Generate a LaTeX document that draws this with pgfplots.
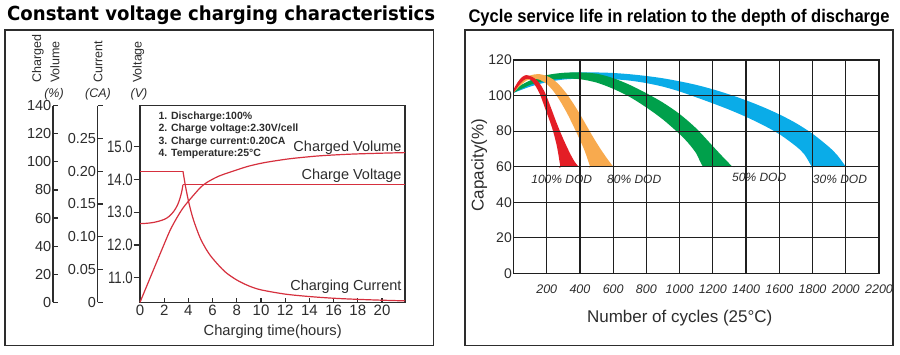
\documentclass[border=0pt]{standalone}
\usepackage{pgfplots}
\pgfplotsset{compat=1.18}
\usepackage{fontspec}
\setmainfont{Liberation Sans}
\newfontfamily\dejavu{DejaVu Sans}
\usepackage{graphicx}
\definecolor{lred}{RGB}{214,48,62}
\definecolor{bred}{RGB}{228,30,38}
\definecolor{borange}{RGB}{248,170,78}
\definecolor{bgreen}{RGB}{0,160,75}
\definecolor{bblue}{RGB}{10,172,232}
\definecolor{txt}{RGB}{45,45,45}
\newcommand{\fs}[1]{\fontsize{#1}{#1}\selectfont}
\newcommand{\vl}[1]{\scalebox{.8}[1]{#1}}
\begin{document}
\begin{tikzpicture}
\useasboundingbox (0,0) rectangle (900pt,-354pt);
\fill[white] (0,0) rectangle (900pt,-354pt);
% titles
\node[anchor=base west, inner sep=0] at (7pt,-20.7pt) {\resizebox{428pt}{14.7pt}{\dejavu\bfseries Constant voltage charging characteristics}};
\node[anchor=base west, inner sep=0] at (468.3pt,-22.3pt) {\resizebox{421pt}{13.2pt}{\bfseries Cycle service life in relation to the depth of discharge}};
% frames
\draw[txt, line width=1.3pt] (5pt,-30pt) rectangle (433.5pt,-345.5pt);
\draw[txt, line width=1.3pt] (465pt,-30pt) rectangle (893pt,-345.7pt);
% left rotated labels
\node[rotate=90, anchor=west, inner sep=0, font=\fs{12.5}, text=txt] at (38pt,-83pt) {Charged};
\node[rotate=90, anchor=west, inner sep=0, font=\fs{12.5}, text=txt] at (55pt,-83pt) {Volume};
\node[rotate=90, anchor=west, inner sep=0, font=\fs{12.5}, text=txt] at (98pt,-83pt) {Current};
\node[rotate=90, anchor=west, inner sep=0, font=\fs{12.5}, text=txt] at (138.5pt,-83pt) {Voltage};
\node[inner sep=0, font=\fs{12.5}\itshape, text=txt] at (54pt,-94pt) {(\%)};
\node[inner sep=0, font=\fs{12.5}\itshape, text=txt] at (98pt,-94pt) {(CA)};
\node[inner sep=0, font=\fs{12.5}\itshape, text=txt] at (139pt,-94pt) {(V)};

% ---------- left: frame with x ticks
\begin{axis}[at={(140pt,-302.3pt)}, anchor=south west, scale only axis,
  width=265pt, height=196.6pt, xmin=0, xmax=21.9, ymin=0, ymax=1,
  ytick=\empty, xtick={0,2,...,20}, xtick pos=bottom, tick align=inside,
  major tick length=4.5pt,
  axis line style={txt, line width=1.1pt}, tick style={txt, line width=1.1pt},
  xticklabel style={font=\fs{15}, text=txt, inner sep=2.5pt},
  /pgf/number format/assume math mode=true]
\end{axis}
% voltage axis
\begin{axis}[at={(140pt,-302.3pt)}, anchor=south west, scale only axis,
  width=265pt, height=196.6pt, xmin=0, xmax=21.9, ymin=10.25, ymax=16.25,
  axis x line=none, axis y line*=left,
  ytick={11,12,13,14,15},
  yticklabels={\vl{11.0},\vl{12.0},\vl{13.0},\vl{14.0},\vl{15.0}},
  tick align=outside, major tick length=6.5pt,
  axis line style={txt, line width=1.1pt}, tick style={txt, line width=1.1pt},
  yticklabel style={font=\fs{16.5}, text=txt, inner sep=0.5pt},
  /pgf/number format/assume math mode=true]
\addplot[lred, line width=1.2pt, smooth, tension=0.5] coordinates {
 (0,12.65) (0.5,12.66) (1,12.68) (1.5,12.72) (2,12.78) (2.4,12.87) (2.8,13.03)
 (3.1,13.22) (3.3,13.42) (3.45,13.63) (3.55,13.84)};
\addplot[lred, line width=1.2pt] coordinates {(3.55,13.84) (21.9,13.84)};
\end{axis}
% current axis
\begin{axis}[at={(97.7pt,-302.3pt)}, anchor=south west, scale only axis,
  width=307.3pt, height=196.6pt, xmin=-3.496, xmax=21.9, ymin=0, ymax=0.3,
  axis x line=none, axis y line*=left,
  ytick={0,0.05,0.1,0.15,0.2,0.25,0.3},
  yticklabels={0,0.05,0.10,0.15,0.20,0.25,{}},
  tick align=inside, major tick length=5pt,
  axis line style={txt, line width=1.1pt}, tick style={txt, line width=1.1pt},
  yticklabel style={font=\fs{14.5}, text=txt, inner sep=1.5pt},
  /pgf/number format/assume math mode=true]
\addplot[lred, line width=1.2pt] coordinates {(0,0.2) (3.55,0.2)};
\addplot[lred, line width=1.2pt, smooth, tension=0.5] coordinates {
 (3.55,0.2) (3.75,0.178) (4.0,0.155) (4.3,0.133) (4.6,0.116) (5.0,0.097)
 (5.5,0.080) (6.0,0.067) (7.0,0.047) (8.0,0.034) (9.0,0.025) (10,0.019)
 (12,0.0125) (14,0.0088) (16,0.0062) (18,0.0045) (20,0.0032) (21.9,0.0022)};
\end{axis}
% volume axis
\begin{axis}[at={(53pt,-302.3pt)}, anchor=south west, scale only axis,
  width=352pt, height=196.6pt, xmin=-7.19, xmax=21.9, ymin=0, ymax=140,
  axis x line=none, axis y line*=left,
  ytick={0,20,...,140},
  tick align=inside, major tick length=5pt,
  axis line style={txt, line width=1.1pt}, tick style={txt, line width=1.1pt},
  yticklabel style={font=\fs{14.5}, text=txt, inner sep=1.5pt},
  /pgf/number format/assume math mode=true]
\addplot[lred, line width=1.2pt, smooth, tension=0.5] coordinates {
 (0,0) (1,20.8) (2,41.5) (2.5,51.5) (3,59.5) (3.5,66.5) (4,72) (4.5,77)
 (5,81.8) (5.5,85.2) (6.5,89.8) (7.9,94) (9,97) (10.3,99.5) (12,101.8)
 (13.2,103) (15,104.4) (17.4,105.5) (20,106.2) (21.9,106.6)};
\end{axis}
% left annotations
\begin{scope}[every node/.style={anchor=base west, inner sep=0, font=\fs{10.5}\bfseries, text=txt}]
\node at (158.3pt,-119pt) {1. Discharge:100\%};
\node at (158.3pt,-131.5pt) {2. Charge voltage:2.30V/cell};
\node at (158.3pt,-144pt) {3. Charge current:0.20CA};
\node at (158.3pt,-156.5pt) {4. Temperature:25°C};
\end{scope}
\begin{scope}[every node/.style={anchor=base east, inner sep=0, font=\fs{14.5}, text=txt}]
\node at (401.7pt,-151.7pt) {Charged Volume};
\node at (401.7pt,-179.3pt) {Charge Voltage};
\node at (401.7pt,-290pt) {Charging Current};
\end{scope}
\node[anchor=base, inner sep=0, font=\fs{14.7}, text=txt] at (272.7pt,-335.7pt) {Charging time(hours)};

% ---------- right chart
\begin{axis}[at={(513.5pt,-273.3pt)}, anchor=south west, scale only axis,
  width=365.5pt, height=213.3pt, xmin=0, xmax=2200, ymin=0, ymax=120,
  xtick={200,400,...,2200},
  xticklabels={200,400,600,800,1000,1200,1400,1600,1800,2000,2200},
  ytick={0,20,...,120}, scaled ticks=false,
  grid=major, grid style={black!88, line width=1.2pt},
  axis line style={black!88, line width=1.2pt}, major tick length=0pt,
  axis on top,
  xticklabel style={font=\fs{12.5}\itshape, text=txt, yshift=-8pt},
  yticklabel style={font=\fs{14}, text=txt, inner sep=1.5pt},
  /pgf/number format/assume math mode=true]
% blue 30% DOD
\addplot[draw=none, fill=bblue, smooth, tension=0.5] coordinates {
 (0,103.5) (100,108) (200,111) (300,112.5) (400,113) (500,113) (600,112.7) (700,112)
 (800,111) (900,109.7) (1000,108) (1100,106) (1200,103.5) (1300,100.6) (1400,97.3)
 (1500,93.6) (1600,89.4) (1700,84.5) (1800,78.5) (1900,71) (1950,66.3) (2000,60) (2000,60)
 (1795,60) (1795,60) (1750,67) (1700,71.5) (1600,78.3) (1500,83.5) (1400,88) (1300,92) (1200,95.6)
 (1100,99) (1000,102.3) (900,105) (800,107) (700,108.4) (600,109.2) (500,109.5)
 (400,109.5) (300,109) (200,107.5) (100,105) (0,101.5)};
% green 50% DOD
\addplot[draw=none, fill=bgreen, smooth, tension=0.5] coordinates {
 (0,103.5) (100,108.5) (200,111.5) (300,112.8) (400,113) (500,112.3) (600,109.8)
 (700,106) (800,101.3) (900,96) (1000,89.6) (1100,81.5) (1200,71.5) (1260,65.5) (1317,60) (1317,60)
 (1140,60) (1140,60) (1120,63.5) (1100,67.5) (1050,73.5) (1000,78.3) (900,86.5) (800,93.3) (700,99.2) (600,103.8)
 (500,107.3) (400,109.2) (300,109.5) (200,108.5) (100,106) (0,101.5)};
% orange 80% DOD
\addplot[draw=none, fill=borange, smooth, tension=0.5] coordinates {
 (0,103.5) (40,107.5) (80,110.5) (120,111.8) (160,112) (200,111) (240,109) (280,105.5)
 (320,101) (360,95.5) (400,89.5) (440,83) (480,76.5) (520,70.5) (560,65) (600,60) (600,60)
 (461,60) (461,60) (430,68.5) (400,75) (360,83) (320,90.5) (280,97) (240,102.5) (200,106.5)
 (160,108.8) (120,109.5) (80,108.5) (40,105.5) (0,101.5)};
% red 100% DOD
\addplot[draw=none, fill=bred, smooth, tension=0.5] coordinates {
 (0,103.5) (25,107.5) (50,110.3) (75,111.5) (100,111) (130,109.5) (160,106.5)
 (190,101.5) (220,94.5) (260,84.5) (300,75.5) (340,67.5) (370,62.5) (392,60) (392,60)
 (282,60) (282,60) (260,72) (230,82.5) (195,91.5) (160,100.5) (135,105) (110,108.3)
 (85,109.5) (60,108.5) (30,105.5) (0,101.5)};
\end{axis}
\begin{scope}[every node/.style={inner sep=0, font=\fs{12}\itshape, text=txt}]
\node at (561.7pt,-179pt) {100\% DOD};
\node at (634.2pt,-179pt) {80\% DOD};
\node at (759.2pt,-177.7pt) {50\% DOD};
\node at (840pt,-179pt) {30\% DOD};
\end{scope}
\node[rotate=90, inner sep=0, font=\fs{17}, text=txt] at (479.3pt,-165pt) {Capacity(\%)};
\node[inner sep=0, font=\fs{17}, text=txt] at (679.7pt,-318.3pt) {Number of cycles (25°C)};
\end{tikzpicture}
\end{document}
